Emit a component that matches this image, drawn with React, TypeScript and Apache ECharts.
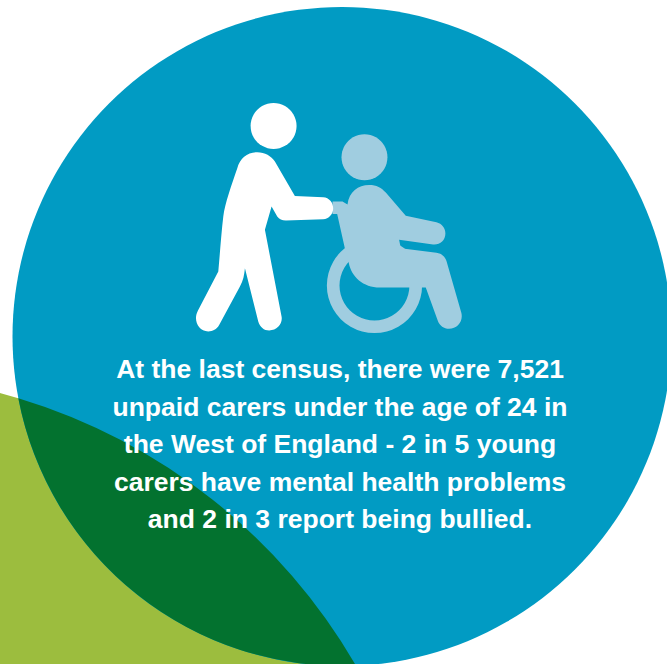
import React, { useEffect, useRef } from "react";
import * as echarts from "echarts";

const textLines = [
  "At the last census, there were 7,521",
  "unpaid carers under the age of 24 in",
  "the West of England - 2 in 5 young",
  "carers have mental health problems",
  "and 2 in 3 report being bullied.",
];

const blueDisc = { cx: 342, cy: 336.5, r: 329.5 };
const limeDisc = { cx: -150.7, cy: 958.5, r: 585.2 };

const COLORS = { blue: "#019bc3", lime: "#9cbd3e", overlap: "#03722f", pale: "#a0cde0", white: "#ffffff" };

function circleCrossings(a: typeof blueDisc, b: typeof blueDisc) {
  const dx = b.cx - a.cx;
  const dy = b.cy - a.cy;
  const d = Math.hypot(dx, dy);
  const t = (a.r * a.r - b.r * b.r + d * d) / (2 * d);
  const h = Math.sqrt(a.r * a.r - t * t);
  const mx = a.cx + (t * dx) / d;
  const my = a.cy + (t * dy) / d;
  const p1 = [mx + (h * dy) / d, my - (h * dx) / d];
  const p2 = [mx - (h * dy) / d, my + (h * dx) / d];
  return p1[1] < p2[1] ? [p1, p2] : [p2, p1];
}

const [top, bottom] = circleCrossings(blueDisc, limeDisc);
const overlapPath =
  `M ${top[0]} ${top[1]} A ${blueDisc.r} ${blueDisc.r} 0 0 0 ${bottom[0]} ${bottom[1]} ` +
  `A ${limeDisc.r} ${limeDisc.r} 0 0 0 ${top[0]} ${top[1]} Z`;

const carerPath =
  "M 232 187 C 255 187 274 198 285 215 L 345 318 L 430 322 C 448 323 460 338 460 355 C 460 373 447 387 430 388 " +
  "L 318 392 C 306 392 298 388 292 380 L 275 350 L 255 420 L 305 680 C 309 702 292 722 268 722 C 252 722 240 712 235 695 " +
  "L 195 535 C 193 555 190 572 180 590 L 118 705 C 110 719 98 725 85 725 C 62 725 48 706 48 685 C 48 677 50 670 54 662 " +
  "L 115 545 C 120 490 124 430 130 380 C 135 340 155 285 172 235 C 180 205 203 187 232 187 Z";

const patientPath =
  "M 458 335 L 488 335 L 503 344 C 508 305 535 285 568 285 C 590 285 605 293 618 308 L 678 378 L 770 397 " +
  "C 787 401 797 415 797 431 C 797 452 780 466 760 464 L 658 450 L 663 475 L 770 489 C 785 491 796 500 800 513 " +
  "L 845 670 C 851 695 832 717 808 717 C 792 717 780 707 775 695 L 738 593 L 600 593 C 550 593 515 560 507 520 " +
  "L 495 475 L 472 372 L 458 372 Z";

echarts.graphic.registerShape("overlapLens", echarts.graphic.extendPath(overlapPath, {}) as any);
echarts.graphic.registerShape("carerBody", echarts.graphic.extendPath(carerPath, {}) as any);
echarts.graphic.registerShape("patientBody", echarts.graphic.extendPath(patientPath, {}) as any);

export default function App() {
  const ref = useRef<HTMLDivElement>(null);
  useEffect(() => {
    document.body.style.margin = "0";
    document.body.style.overflow = "hidden";
    const chart = echarts.init(ref.current!, undefined, { renderer: "svg" });
    chart.setOption({
      animation: false,
      backgroundColor: "#ffffff",
      graphic: {
        elements: [
          { type: "circle", shape: { cx: limeDisc.cx, cy: limeDisc.cy, r: limeDisc.r }, style: { fill: COLORS.lime } },
          { type: "circle", shape: { cx: blueDisc.cx, cy: blueDisc.cy, r: blueDisc.r }, style: { fill: COLORS.blue } },
          { type: "overlapLens", x: 0, y: 0, style: { fill: COLORS.overlap } },
          {
            type: "group",
            x: 180,
            y: 90,
            scaleX: 1 / 3,
            scaleY: 1 / 3,
            children: [
              { type: "ring", shape: { cx: 584, cy: 587, r: 143, r0: 105 }, style: { fill: COLORS.pale } },
              { type: "patientBody", style: { fill: COLORS.pale } },
              { type: "circle", shape: { cx: 554, cy: 202, r: 69 }, style: { fill: COLORS.pale } },
              { type: "carerBody", style: { fill: COLORS.white } },
              { type: "circle", shape: { cx: 281, cy: 108, r: 69 }, style: { fill: COLORS.white } },
            ],
          },
          ...textLines.map((line, i) => ({
            type: "text",
            x: 340,
            y: 369 + i * 37.6,
            style: {
              text: line,
              fill: COLORS.white,
              font: 'bold 26.5px "Liberation Sans", Arial, sans-serif',
              textAlign: "center",
              textVerticalAlign: "middle",
            },
          })),
        ],
      },
    });
    return () => chart.dispose();
  }, []);
  return <div ref={ref} style={{ width: 667, height: 664 }} />;
}
